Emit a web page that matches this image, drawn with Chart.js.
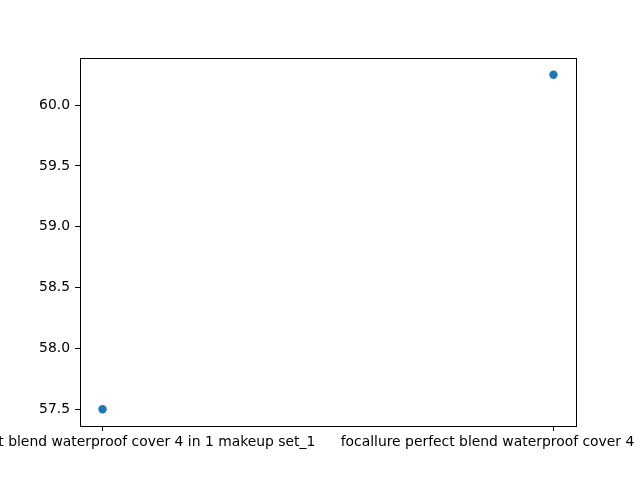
<!DOCTYPE html>
<html>
<head>
<meta charset="utf-8">
<script src="https://cdn.jsdelivr.net/npm/chart.js@4"></script>
<style>
html,body{margin:0;padding:0;background:#fff;}
#wrap{width:640px;height:480px;position:relative;}
</style>
</head>
<body>
<div id="wrap"><canvas id="c" width="640" height="480"></canvas></div>
<script>
const categories = [
  "focallure perfect blend waterproof cover 4 in 1 makeup set_1",
  "focallure perfect blend waterproof cover 4 in 1 makeup set_2"
];
const values = [57.5, 60.25];
const yTicks = [57.5, 58.0, 58.5, 59.0, 59.5, 60.0];

const FONT = {family: "'DejaVu Sans', sans-serif", size: 13.9};

const framePlugin = {
  id: 'frame',
  afterDraw(chart) {
    const a = chart.chartArea, ctx = chart.ctx;
    ctx.save();
    ctx.strokeStyle = '#000';
    ctx.lineWidth = 1;
    ctx.strokeRect(Math.round(a.left) + 0.5, Math.round(a.top) + 0.5, Math.round(a.right - a.left), Math.round(a.bottom - a.top));
    ctx.restore();
  }
};

new Chart(document.getElementById('c'), {
  type: 'scatter',
  data: {
    datasets: [{
      data: values.map((v, i) => ({x: i, y: v})),
      backgroundColor: '#1f77b4',
      borderColor: '#1f77b4',
      pointRadius: 4.2,
      pointHoverRadius: 4.2,
      borderWidth: 0
    }]
  },
  options: {
    responsive: false,
    animation: false,
    events: [],
    layout: {padding: {left: 0, right: 64, top: 58, bottom: 0}},
    plugins: {legend: {display: false}, tooltip: {enabled: false}},
    scales: {
      x: {
        type: 'linear',
        min: -0.05,
        max: 1.05,
        afterBuildTicks: s => { s.ticks = categories.map((c, i) => ({value: i})); },
        afterFit: s => { s.paddingLeft = 0; s.paddingRight = 0; s.height = 54; },
        ticks: {
          color: '#000',
          font: FONT,
          padding: 3,
          maxRotation: 0,
          minRotation: 0,
          autoSkip: false,
          callback: v => categories[v]
        },
        grid: {display: true, drawOnChartArea: false, drawTicks: true, tickLength: 5, color: '#000', tickColor: '#000'},
        border: {display: true, color: '#000', width: 1}
      },
      y: {
        type: 'linear',
        min: 57.3625,
        max: 60.3875,
        afterBuildTicks: s => { s.ticks = yTicks.map(v => ({value: v})); },
        afterFit: s => { s.width = 80; },
        ticks: {
          color: '#000',
          font: FONT,
          padding: 5,
          callback: v => v.toFixed(1)
        },
        grid: {display: true, drawOnChartArea: false, drawTicks: true, tickLength: 5, color: '#000', tickColor: '#000'},
        border: {display: true, color: '#000', width: 1}
      }
    }
  },
  plugins: [framePlugin]
});
</script>
</body>
</html>
